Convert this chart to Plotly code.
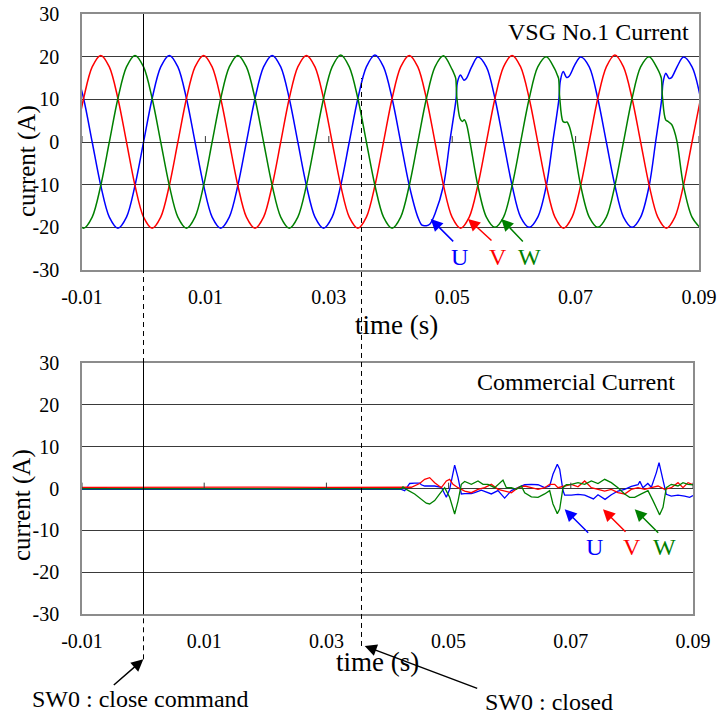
import plotly.graph_objects as go

# ---------------- data (time in ms, current in A) ----------------
# Top: VSG No.1 current, samples read at ~30 degree steps plus distortion points
top_u_t = [-11.13, -9.74, -8.35, -6.96, -5.57, -4.18, -2.79, -1.41, -0.02, 1.37, 2.76, 4.15,
           5.54, 6.93, 8.32, 9.71, 11.09, 12.48, 13.87, 15.26, 16.65, 18.04, 19.43, 20.82,
           22.21, 23.59, 24.98, 26.37, 27.76, 29.15, 30.54, 31.93, 33.32, 34.71, 36.09, 37.48,
           38.87, 40.26, 41.65, 43.04, 44.43, 45.1, 45.82, 46.4, 47.21, 48.59,
           49.6, 50.62, 50.85, 51.35, 51.9, 52.3, 53.15, 54.15,
           55.54, 56.93, 58.32, 59.71, 61.09, 62.48, 63.87, 65.26,
           66.3, 67.29, 67.52, 68.0, 68.55, 68.95, 69.85, 70.82,
           72.21, 73.59, 74.98, 76.37, 77.76, 79.15, 80.54, 81.93,
           82.97, 83.95, 84.18, 84.62, 85.15, 85.55, 86.5, 87.48, 88.87, 90.26]
top_u_v = [17.6, 10.2, 0.0, -10.2, -17.6, -20.2, -17.6, -10.2, 0.0, 10.2, 17.6, 20.3,
           17.6, 10.2, 0.0, -10.2, -17.6, -20.2, -17.6, -10.2, 0.0, 10.2, 17.6, 20.3,
           17.6, 10.2, 0.0, -10.2, -17.6, -20.2, -17.6, -10.2, 0.0, 10.2, 17.6, 20.4,
           17.6, 10.2, 0.0, -10.2, -17.6, -19.5, -19.6, -19.2, -16.8, -10.2,
           0.0, 10.0, 14.0, 15.7, 14.5, 14.9, 17.6, 19.9,
           17.6, 10.2, 0.0, -10.2, -17.6, -20.0, -17.6, -10.2,
           0.0, 10.0, 14.3, 16.5, 15.1, 15.4, 18.0, 19.9,
           17.6, 10.2, 0.0, -10.2, -17.6, -20.0, -17.6, -10.2,
           0.0, 10.0, 14.0, 16.1, 14.9, 15.1, 17.8, 19.9, 17.6, 10.2]

top_grid_t = [-11.13, -9.74, -8.35, -6.96, -5.57, -4.18, -2.79, -1.41, -0.02, 1.37, 2.76, 4.15,
              5.54, 6.93, 8.32, 9.71, 11.09, 12.48, 13.87, 15.26, 16.65, 18.04, 19.43, 20.82,
              22.21, 23.59, 24.98, 26.37, 27.76, 29.15, 30.54, 31.93, 33.32, 34.71, 36.09, 37.48,
              38.87, 40.26, 41.65, 43.04, 44.43, 45.82, 47.21, 48.59, 49.98, 51.37, 52.76, 54.15,
              55.54, 56.93, 58.32, 59.71, 61.09, 62.48, 63.87, 65.26, 66.65, 68.04, 69.43, 70.82,
              72.21, 73.59, 74.98, 76.37, 77.76, 79.15, 80.54, 81.93, 83.32, 84.71, 86.09, 87.48,
              88.87, 90.26]
top_v_v = [0.0, 10.2, 17.6, 20.3, 17.6, 10.2, 0.0, -10.2, -17.6, -20.2, -17.6, -10.2,
           0.0, 10.2, 17.6, 20.3, 17.6, 10.2, 0.0, -10.2, -17.6, -20.2, -17.6, -10.2,
           0.0, 10.2, 17.6, 20.3, 17.6, 10.2, 0.0, -10.2, -17.6, -20.2, -17.6, -10.2,
           0.0, 10.2, 17.6, 20.3, 17.6, 10.2, 0.0, -10.2, -17.6, -20.2, -17.6, -10.2,
           0.0, 10.2, 17.6, 20.3, 17.6, 10.2, 0.0, -10.2, -17.6, -20.2, -17.6, -10.2,
           0.0, 10.2, 17.6, 20.4, 17.6, 10.2, 0.0, -10.2, -17.6, -20.2, -17.6, -10.2,
           0.0, 10.2]

top_w_t = [-11.13, -9.74, -8.35, -6.96, -5.57, -4.18, -2.79, -1.41, -0.02, 1.37, 2.76, 4.15,
           5.54, 6.93, 8.32, 9.71, 11.09, 12.48, 13.87, 15.26, 16.65, 18.04, 19.43, 20.82,
           22.21, 23.59, 24.98, 26.37, 27.76, 29.15, 30.54, 31.93, 33.32, 34.71, 36.09, 37.48,
           38.87, 40.26, 41.65, 43.04, 44.43, 45.82, 47.21, 48.59,
           49.98, 50.35, 50.57, 50.75, 51.27, 51.65, 51.97, 52.35, 52.89,
           54.15, 55.54, 56.93, 58.32, 59.71, 61.09, 62.48, 63.87, 65.26,
           66.65, 67.0, 67.24, 67.42, 67.95, 68.3, 68.6, 69.0, 69.6,
           70.82, 72.21, 73.59, 74.98, 76.37, 77.76, 79.15, 80.54, 81.93,
           83.32, 83.7, 83.9, 84.08, 84.6, 85.0, 85.57, 85.95, 86.45,
           87.48, 88.87, 90.26]
top_w_v = [-17.6, -20.2, -17.6, -10.2, 0.0, 10.2, 17.6, 20.3, 17.6, 10.2, 0.0, -10.2,
           -17.6, -20.2, -17.6, -10.2, 0.0, 10.2, 17.6, 20.3, 17.6, 10.2, 0.0, -10.2,
           -17.6, -20.2, -17.6, -10.2, 0.0, 10.2, 17.6, 20.4, 17.6, 10.2, 0.0, -10.2,
           -17.6, -20.2, -17.6, -10.2, 0.0, 10.2, 17.6, 20.2,
           17.0, 15.8, 14.9, 10.5, 5.5, 4.8, 5.2, 4.0, 0.0,
           -10.2, -17.6, -20.0, -17.6, -10.2, 0.0, 10.2, 17.6, 20.0,
           17.0, 15.8, 14.9, 10.5, 4.8, 4.6, 4.7, 3.6, 0.0,
           -10.2, -17.6, -20.0, -17.6, -10.2, 0.0, 10.2, 17.6, 20.0,
           17.0, 15.8, 14.9, 10.5, 5.2, 4.8, 4.1, 2.8, 0.0,
           -10.2, -17.6, -20.2]

# Bottom: commercial current
bot_u_t = [-10.0, 10.0, 30.0, 42.26, 42.81, 43.63, 44.44, 45.26, 45.54, 46.08, 47.72, 48.81,
           49.63, 50.17, 50.99, 51.54, 52.08, 52.63, 53.72, 54.26, 55.36, 56.45, 56.99, 58.08,
           59.17, 60.27, 61.36, 62.45, 63.54, 64.63, 65.72, 66.54, 67.08, 67.79, 68.18, 68.72,
           69.0, 70.09, 71.18, 72.27, 73.7, 74.45, 75.6, 76.63, 77.72, 78.81, 79.9, 81.0,
           81.3, 81.8, 82.6, 83.18, 84.0, 84.44, 85.09, 85.63, 86.45, 87.54, 88.63, 89.45, 90.0]
bot_u_v = [-0.2, -0.2, -0.2, -0.2, -0.5, 1.2, 1.3, 1.3, 0.9, 0.6, 0.6, 0.3,
           -2.1, -0.2, 5.6, 2.6, -1.3, -1.2, -1.2, -1.0, -0.4, -1.0, -1.3, -0.5,
           -2.3, -0.5, 0.2, 0.9, 1.0, 0.9, 0.2, 0.6, 3.4, 5.8, 4.6, -0.5,
           -1.6, -1.6, -1.4, -1.6, -2.5, -1.5, -2.6, -1.5, -0.6, -0.2, 0.5, 0.9,
           1.7, 0.2, 1.2, 0.3, 3.8, 6.2, 2.0, -1.4, -1.8, -1.6, -1.8, -2.1, -1.7]

bot_v_t = [-10.0, 0.0, 10.0, 20.0, 30.0, 42.81, 43.9, 45.26, 46.08, 46.9, 47.72, 48.81,
           49.63, 50.17, 50.72, 51.54, 52.63, 53.72, 54.81, 55.9, 56.99, 58.08, 59.17, 60.27,
           61.36, 62.45, 63.54, 64.63, 65.72, 66.54, 67.36, 67.9, 69.0, 70.09, 71.18, 72.27,
           73.36, 74.45, 75.54, 76.63, 77.72, 78.81, 79.9, 81.0, 82.09, 83.18, 84.27, 85.36,
           86.45, 87.54, 88.36, 89.18, 90.0]
bot_v_v = [0.25, 0.3, 0.2, 0.35, 0.25, 0.2, 0.3, 1.2, 2.2, 2.6, 1.4, 0.2,
           1.8, 2.2, 1.0, 0.2, -0.6, -1.0, -0.2, 0.2, 1.0, -0.2, -0.6, -1.0,
           0.2, 0.6, 0.2, -0.2, 0.2, 1.0, 1.0, 0.2, 0.6, 1.0, 0.4, 1.8,
           0.2, -0.2, -0.6, -0.2, -1.0, -1.3, -0.2, 0.2, -0.2, 0.2, 0.6, -0.2,
           0.2, 1.4, 0.2, 1.4, 0.9]

bot_w_t = [-10.0, 10.0, 30.0, 42.26, 42.53, 43.08, 44.44, 45.54, 46.35, 46.9, 47.72, 48.54,
           49.35, 50.17, 50.99, 51.54, 52.08, 52.63, 53.72, 54.81, 55.63, 56.45, 57.54, 58.9,
           59.45, 60.27, 61.08, 61.9, 62.45, 63.54, 64.63, 65.72, 66.54, 67.08, 67.79, 68.18,
           68.72, 69.27, 70.09, 71.18, 72.27, 73.36, 74.45, 75.54, 76.63, 77.72, 78.81, 79.63,
           80.45, 81.54, 82.63, 83.45, 84.54, 85.09, 85.63, 86.45, 87.54, 88.36, 89.18, 90.0]
bot_w_v = [-0.1, -0.1, -0.1, -0.1, 0.4, -0.2, -1.3, -2.5, -3.5, -3.7, -2.9, -1.3,
           0.2, -2.1, -6.1, -3.0, 1.0, 1.7, 1.0, 1.8, 1.0, 1.0, 0.2, 2.0,
           0.2, 0.2, -0.2, 0.6, -1.0, -2.0, -2.1, -1.3, -0.5, -3.7, -6.0, -4.9,
           0.2, 0.9, 1.0, 1.4, 1.0, 1.8, 1.2, 2.2, 1.4, 0.2, -1.3, -2.1,
           -2.1, -1.3, -0.5, -2.9, -6.3, -4.5, 0.2, 1.0, 0.6, 1.4, 1.0, 0.9]

x_tick_vals = [-0.01, 0.01, 0.03, 0.05, 0.07, 0.09]
x_tick_text = ["-0.01", "0.01", "0.03", "0.05", "0.07", "0.09"]
y_tick_vals = [-30, -20, -10, 0, 10, 20, 30]
y_tick_text = ["-30", "-20", "-10", "0", "10", "20", "30"]
phase_names = ["U", "V", "W"]
phase_colors = ["#0000FF", "#FF0000", "#008000"]

# ---------------- figure ----------------
FONT = "Liberation Serif, Times New Roman, serif"
sec = lambda lst: [t / 1000.0 for t in lst]

fig = go.Figure()
top_series = [(top_u_t, top_u_v), (top_grid_t, top_v_v), (top_w_t, top_w_v)]
bot_series = [(bot_u_t, bot_u_v), (bot_v_t, bot_v_v), (bot_w_t, bot_w_v)]
for (t, v), name, col in zip(top_series, phase_names, phase_colors):
    fig.add_trace(go.Scatter(x=sec(t), y=v, mode="lines", name=name, showlegend=False,
                             line=dict(color=col, width=1.5, shape="spline", smoothing=0.9),
                             xaxis="x", yaxis="y"))
for (t, v), name, col in zip(bot_series, phase_names, phase_colors):
    fig.add_trace(go.Scatter(x=sec(t), y=v, mode="lines", name=name, showlegend=False,
                             line=dict(color=col, width=1.3),
                             xaxis="x2", yaxis="y2"))

GRID = "#3a3a3a"
BORDER = "#8c8c8c"
axis_common = dict(showline=True, linecolor=BORDER, linewidth=1.5, mirror=True,
                   automargin=False, ticks="",
                   tickfont=dict(family=FONT, size=20, color="black"))
xa = dict(axis_common, range=[-0.01, 0.09], tickmode="array", tickvals=x_tick_vals,
          ticktext=x_tick_text, showgrid=False, zeroline=False, ticklabelstandoff=8)
ya = dict(axis_common, range=[-30, 30], tickmode="array", tickvals=y_tick_vals,
          ticktext=y_tick_text, showgrid=True, gridcolor=GRID, gridwidth=1,
          zeroline=False, ticklabelstandoff=17)

H_BOT = 0.4183
H_TOP0 = 0.5733
fig.update_layout(
    width=718, height=716, autosize=False,
    margin=dict(l=82, r=19, t=14, b=102, pad=0, autoexpand=False),
    paper_bgcolor="white", plot_bgcolor="white",
    xaxis=dict(xa, domain=[0, 1], anchor="y"),
    yaxis=dict(ya, domain=[H_TOP0, 1], anchor="x"),
    xaxis2=dict(xa, domain=[0, 0.9903], anchor="y2"),
    yaxis2=dict(ya, domain=[0, H_BOT], anchor="x2"),
    font=dict(family=FONT, color="black"),
)

shapes = []
# small ticks on the zero line
for xv in x_tick_vals:
    for xr, yr in (("x", "y"), ("x2", "y2")):
        shapes.append(dict(type="line", xref=xr, yref=yr, x0=xv, x1=xv, y0=0, y1=1.4,
                           line=dict(color=GRID, width=1)))
# event marker lines
LX1, LX2 = 0.0997, 0.453
shapes += [
    dict(type="line", xref="paper", yref="paper", x0=LX1, x1=LX1, y0=H_TOP0, y1=1.0,
         line=dict(color="black", width=1)),
    dict(type="line", xref="paper", yref="paper", x0=LX1, x1=LX1, y0=H_BOT, y1=H_TOP0,
         line=dict(color="black", width=1, dash="5px,4px")),
    dict(type="line", xref="paper", yref="paper", x0=LX1, x1=LX1, y0=0, y1=H_BOT,
         line=dict(color="black", width=1)),
    dict(type="line", xref="paper", yref="paper", x0=LX1, x1=LX1, y0=-0.0755, y1=0,
         line=dict(color="black", width=1, dash="5px,4px")),
    dict(type="line", xref="paper", yref="paper", x0=LX2, x1=LX2, y0=-0.0533, y1=0.8933,
         line=dict(color="black", width=1, dash="5px,4px")),
]
fig.update_layout(shapes=shapes)

ann = []
def txt(x, y, s, size=24, color="black", xanchor="center", angle=0):
    ann.append(dict(xref="paper", yref="paper", x=x, y=y, text=s, showarrow=False,
                    xanchor=xanchor, yanchor="middle", textangle=angle,
                    font=dict(family=FONT, size=size, color=color)))

def arrow(x, y, ax, ay, color="black"):
    ann.append(dict(xref="paper", yref="paper", x=x, y=y, ax=ax, ay=ay, text="",
                    showarrow=True, arrowhead=2, arrowsize=1.6, arrowwidth=1.5,
                    arrowcolor=color, standoff=0))

txt(0.987, 0.9705, "VSG No.1 Current", xanchor="right")
txt(0.9648, 0.3872, "Commercial Current", xanchor="right")
txt(0.5097, 0.4817, "time (s)", size=27)
txt(0.4797, -0.08, "time (s)", size=27)
txt(-0.0891, 0.755, "current (A)", size=25, angle=-90)
txt(-0.0972, 0.1817, "current (A)", size=25, angle=-90)
txt(0.0956, -0.1417, "SW0 : close command")
txt(0.7564, -0.1462, "SW0 : closed")

# top phase labels
for name, col, lx, hx, ax_, ay_ in zip(phase_names, phase_colors,
                                       [0.6122, 0.6742, 0.7256],
                                       [0.5652, 0.6256, 0.6796],
                                       [24, 25, 23], [24, 23, 24]):
    arrow(hx, 0.6585, ax_, ay_, col)
    txt(lx, 0.5955, name, color=col)
# bottom phase labels
for name, col, lx, hx, ax_, ay_ in zip(phase_names, phase_colors,
                                       [0.831, 0.8914, 0.9433],
                                       [0.7823, 0.8444, 0.8958],
                                       [25, 24, 25], [25, 24, 25]):
    arrow(hx, 0.1745, ax_, ay_, col)
    txt(lx, 0.1115, name, color=col)

arrow(0.0994, -0.0755, -31, 27)
arrow(0.4582, -0.0533, 114, 43)

fig.update_layout(annotations=ann)
fig.write_html("out.html", config={"displayModeBar": False},
               post_script="document.body.style.margin='0';document.body.style.padding='0';")
